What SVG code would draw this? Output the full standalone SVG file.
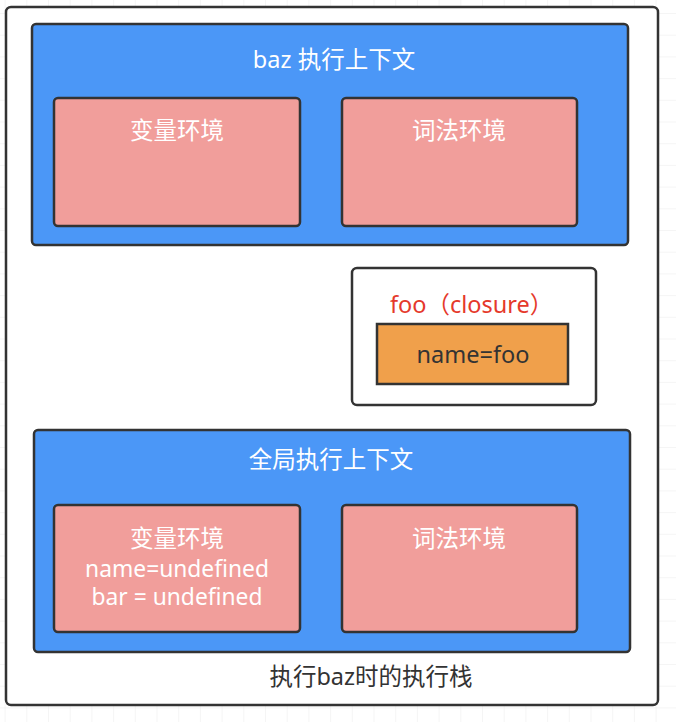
<svg xmlns="http://www.w3.org/2000/svg" width="676" height="722" viewBox="0 0 676 722">
<defs>
<pattern id="grid" x="4.6" y="13" width="21.7" height="21.7" patternUnits="userSpaceOnUse">
<path d="M0 0H21.7M0 0V21.7" fill="none" stroke="#ececec" stroke-width="1"/>
</pattern>
<style>
text{font-family:"Noto Sans","Noto Sans CJK SC",sans-serif;font-size:23.5px;text-anchor:middle}
.s{font-size:22.8px}
.w{fill:#ffffff}
.d{fill:#333333}
.r{fill:#e5392b;text-anchor:start}
.frame{fill:#ffffff;stroke:#333333;stroke-width:2.5}
.ctx{fill:#4b97f7;stroke:#333333;stroke-width:2.5}
.env{fill:#f19e9b;stroke:#333333;stroke-width:2.5}
.val{fill:#f0a04b;stroke:#333333;stroke-width:2.5}
</style>
</defs>
<rect width="676" height="722" fill="#ffffff"/>
<rect width="676" height="722" fill="url(#grid)"/>
<g id="stack">
<rect class="frame" x="6" y="7" width="652" height="698" rx="5"/>
<text class="d" x="371" y="685">执行baz时的执行栈</text>
</g>
<g id="baz-ctx">
<rect class="ctx" x="32" y="24" width="596" height="221" rx="4"/>
<text class="w" x="334" y="68">baz 执行上下文</text>
</g>
<g id="baz-var-env">
<rect class="env" x="54" y="98" width="246" height="128" rx="4"/>
<text class="w" x="177" y="139">变量环境</text>
</g>
<g id="baz-lex-env">
<rect class="env" x="342" y="98" width="235" height="128" rx="4"/>
<text class="w" x="459" y="139">词法环境</text>
</g>
<g id="closure">
<rect class="frame" x="352" y="268" width="244" height="137" rx="5"/>
<text class="r" x="390" y="313">foo（closure）</text>
</g>
<g id="closure-val">
<rect class="val" x="377" y="324" width="191" height="60"/>
<text class="d" x="473" y="363">name=foo</text>
</g>
<g id="global-ctx">
<rect class="ctx" x="34" y="430" width="596" height="222" rx="4"/>
<text class="w" x="331" y="468">全局执行上下文</text>
</g>
<g id="global-var-env">
<rect class="env" x="54" y="505" width="246" height="127" rx="4"/>
<text class="w" x="177" y="547">变量环境</text>
<text class="w s" x="177" y="577">name=undefined</text>
<text class="w s" x="177" y="605">bar = undefined</text>
</g>
<g id="global-lex-env">
<rect class="env" x="342" y="505" width="235" height="127" rx="4"/>
<text class="w" x="459" y="547">词法环境</text>
</g>
<g id="connectors"></g>
</svg>
